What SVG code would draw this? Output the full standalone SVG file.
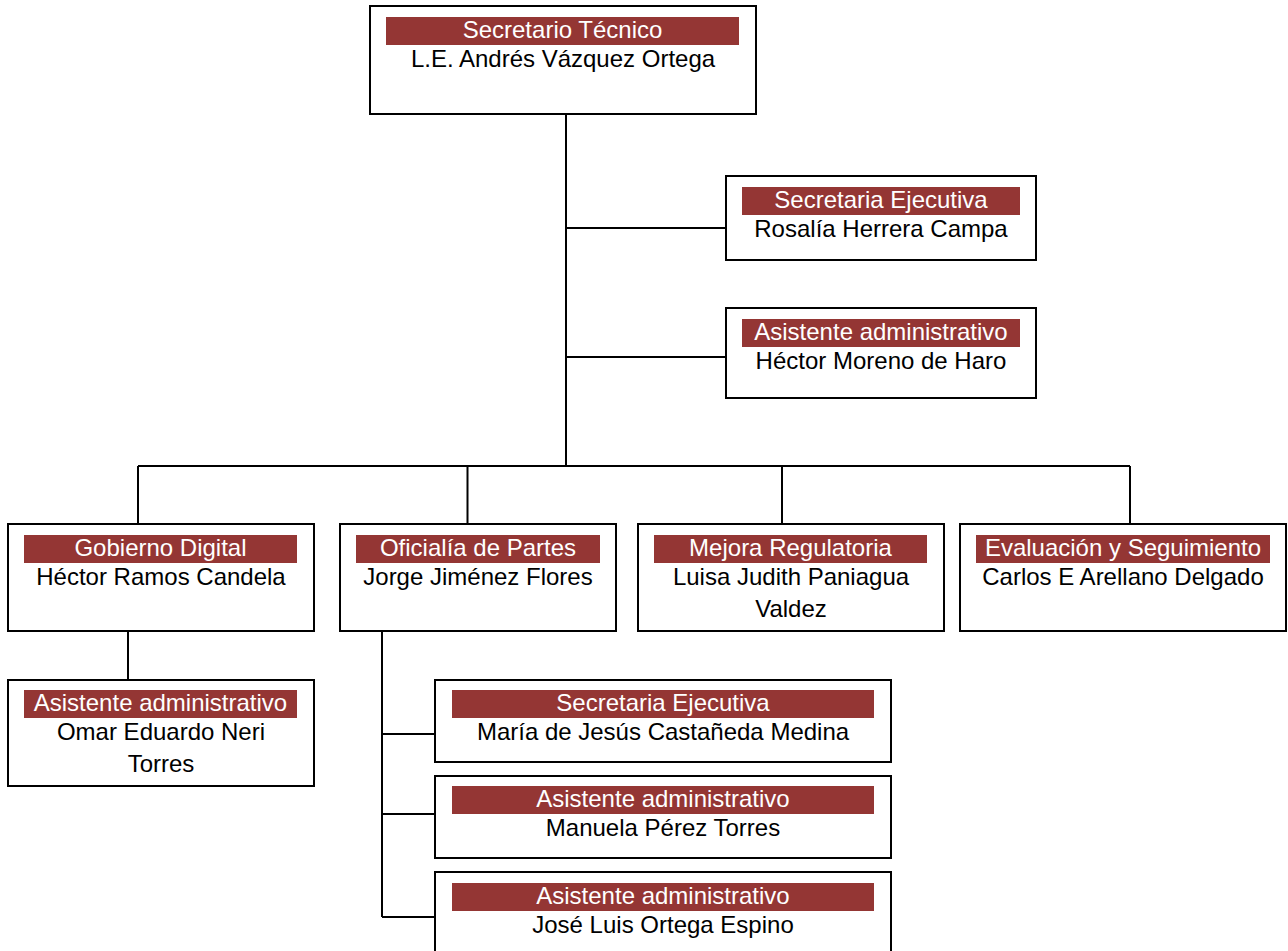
<svg xmlns="http://www.w3.org/2000/svg" width="1288" height="951" viewBox="0 0 1288 951">
<style>
.box{fill:#fff;stroke:#000;stroke-width:2}
.bar{fill:#943634}
.t{font-family:"Liberation Sans",Arial,sans-serif;font-size:24px;fill:#fff;text-anchor:middle}
.n{font-family:"Liberation Sans",Arial,sans-serif;font-size:24px;fill:#000;text-anchor:middle}
.c{fill:none;stroke:#000;stroke-width:2}
</style>
<rect width="1288" height="951" fill="#fff"/>
<g id="connectors">
<path class="c" d="M566 114V466M566 228H726M566 357H726M138 466H1130M138 466V524M467.5 466V524M782 466V524M1130 466V524M128 631V680M382 631V917M382 734H435M382 814H435M382 917H435"/>
</g>
<g id="secretario">
<rect class="box" x="370" y="6" width="386" height="108"/>
<rect class="bar" x="386" y="17" width="353" height="28"/>
<text class="t" x="562.5" y="38">Secretario Técnico</text>
<text class="n" x="563" y="67">L.E. Andrés Vázquez Ortega</text>
</g>
<g id="secretaria1">
<rect class="box" x="726" y="176" width="310" height="84"/>
<rect class="bar" x="742" y="187" width="278" height="28"/>
<text class="t" x="881" y="208">Secretaria Ejecutiva</text>
<text class="n" x="881" y="237">Rosalía Herrera Campa</text>
</g>
<g id="asistente1">
<rect class="box" x="726" y="308" width="310" height="90"/>
<rect class="bar" x="742" y="319" width="278" height="28"/>
<text class="t" x="881" y="340">Asistente administrativo</text>
<text class="n" x="881" y="369">Héctor Moreno de Haro</text>
</g>
<g id="gobierno">
<rect class="box" x="8" y="524" width="306" height="107"/>
<rect class="bar" x="24" y="535" width="273" height="28"/>
<text class="t" x="160.5" y="556">Gobierno Digital</text>
<text class="n" x="161" y="585">Héctor Ramos Candela</text>
</g>
<g id="oficialia">
<rect class="box" x="340" y="524" width="276" height="107"/>
<rect class="bar" x="356" y="535" width="244" height="28"/>
<text class="t" x="478" y="556">Oficialía de Partes</text>
<text class="n" x="478" y="585">Jorge Jiménez Flores</text>
</g>
<g id="mejora">
<rect class="box" x="638" y="524" width="306" height="107"/>
<rect class="bar" x="654" y="535" width="273" height="28"/>
<text class="t" x="790.5" y="556">Mejora Regulatoria</text>
<text class="n" x="791" y="585">Luisa Judith Paniagua</text>
<text class="n" x="791" y="617">Valdez</text>
</g>
<g id="evaluacion">
<rect class="box" x="960" y="524" width="326" height="107"/>
<rect class="bar" x="976" y="535" width="294" height="28"/>
<text class="t" x="1123" y="556">Evaluación y Seguimiento</text>
<text class="n" x="1123" y="585">Carlos E Arellano Delgado</text>
</g>
<g id="asistente2">
<rect class="box" x="8" y="680" width="306" height="106"/>
<rect class="bar" x="24" y="690" width="273" height="28"/>
<text class="t" x="160.5" y="711">Asistente administrativo</text>
<text class="n" x="161" y="740">Omar Eduardo Neri</text>
<text class="n" x="161" y="772">Torres</text>
</g>
<g id="secretaria2">
<rect class="box" x="435" y="680" width="456" height="82"/>
<rect class="bar" x="452" y="690" width="422" height="28"/>
<text class="t" x="663" y="711">Secretaria Ejecutiva</text>
<text class="n" x="663" y="740">María de Jesús Castañeda Medina</text>
</g>
<g id="asistente3">
<rect class="box" x="435" y="776" width="456" height="82"/>
<rect class="bar" x="452" y="786" width="422" height="28"/>
<text class="t" x="663" y="807">Asistente administrativo</text>
<text class="n" x="663" y="836">Manuela Pérez Torres</text>
</g>
<g id="asistente4">
<rect class="box" x="435" y="872" width="456" height="84"/>
<rect class="bar" x="452" y="883" width="422" height="28"/>
<text class="t" x="663" y="904">Asistente administrativo</text>
<text class="n" x="663" y="933">José Luis Ortega Espino</text>
</g>
</svg>
